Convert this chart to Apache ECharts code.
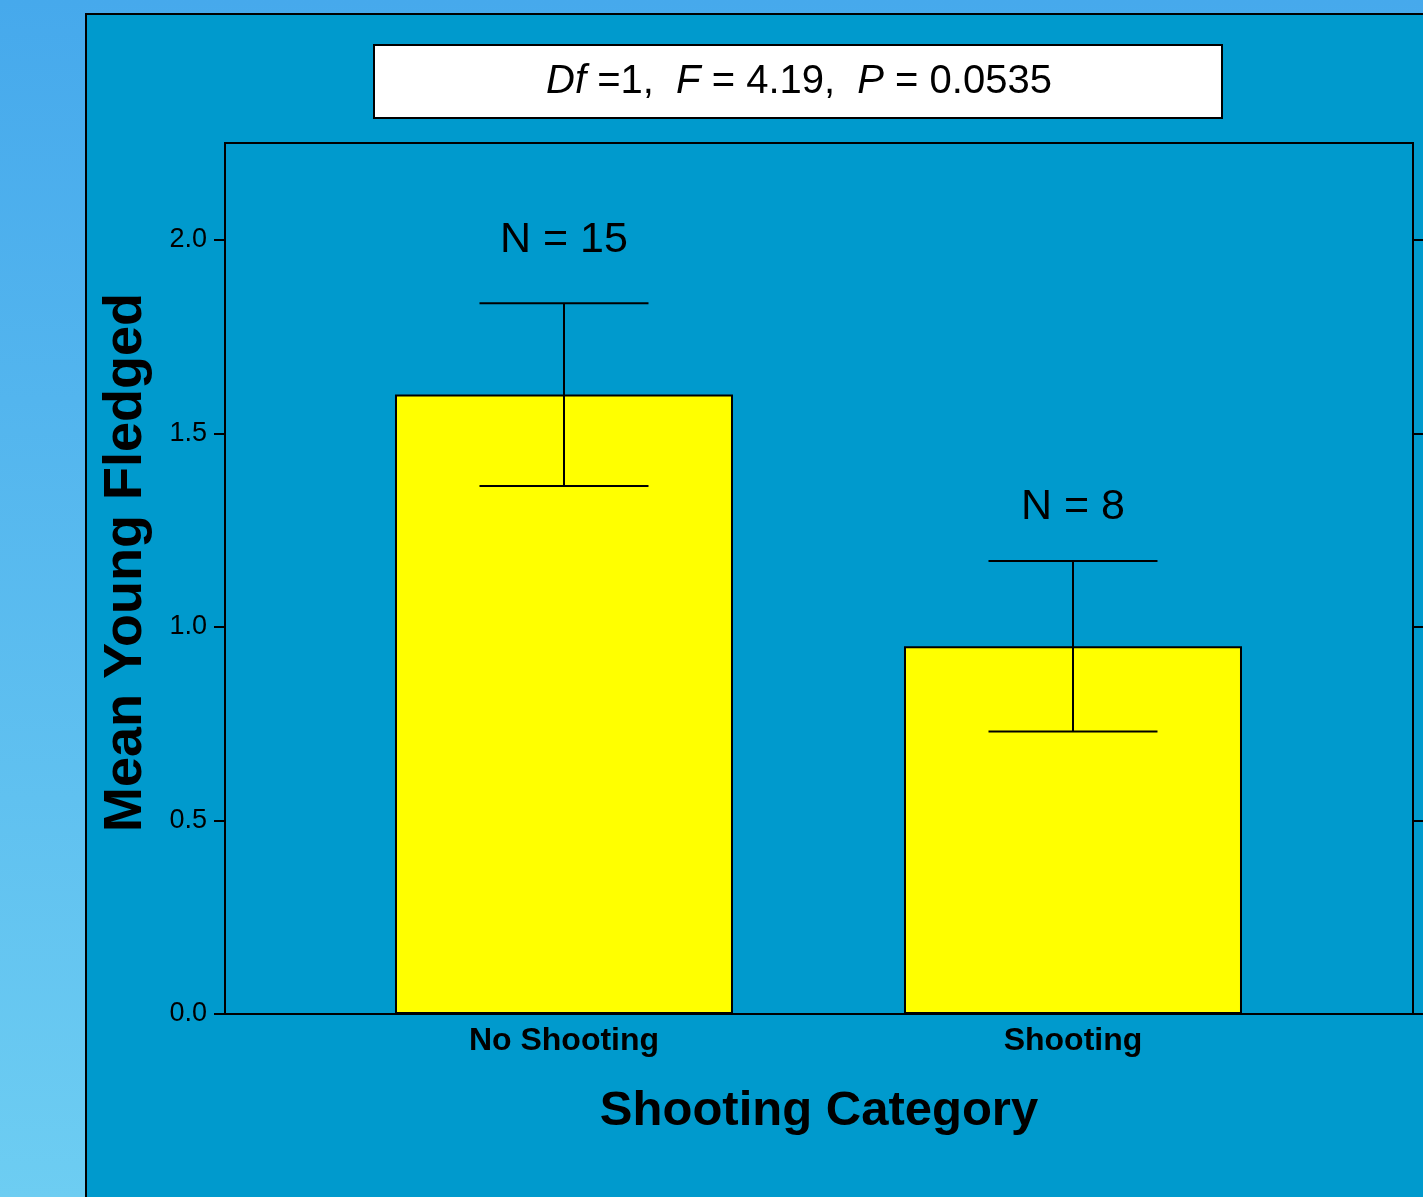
<!DOCTYPE html>
<html>
<head>
<meta charset="utf-8">
<script src="https://cdn.jsdelivr.net/npm/echarts@6/dist/echarts.min.js"></script>
<style>html,body{margin:0;padding:0;}#c{width:1423px;height:1197px;}</style>
</head>
<body>
<div id="c"></div>
<script>
const categories = ['No Shooting', 'Shooting'];
const positions = [0, 1];
const means = [1.60, 0.95];
const stdErrors = [0.236, 0.22];
const sampleLabels = ['N = 15', 'N = 8'];
const sampleLabelY = [2.0, 1.31];
const yTicks = [0, 0.5, 1.0, 1.5, 2.0];

const FONT = '"Liberation Sans", Arial, sans-serif';
const chart = echarts.init(document.getElementById('c'));

const option = {
  animation: false,
  backgroundColor: {
    type: 'linear', x: 0, y: 0, x2: 0, y2: 1,
    colorStops: [{offset: 0, color: '#46A9EC'}, {offset: 1, color: '#6DCDF2'}]
  },
  graphic: [
    {type: 'rect', z: -100, shape: {x: 86, y: 14, width: 1400, height: 1250},
     style: {fill: '#009ACD', stroke: '#000', lineWidth: 2}},
    {type: 'rect', z: 10, shape: {x: 374, y: 45, width: 848, height: 73},
     style: {fill: '#ffffff', stroke: '#000', lineWidth: 2}},
    {type: 'text', z: 11, x: 799, y: 82,
     style: {
       text: '{i|Df}{n| =1,  }{i|F}{n| = 4.19,  }{i|P}{n| = 0.0535}',
       align: 'center', verticalAlign: 'middle',
       rich: {
         i: {fontStyle: 'italic', fontSize: 40, fontFamily: FONT, fill: '#000'},
         n: {fontSize: 40, fontFamily: FONT, fill: '#000'}
       }
     }}
  ],
  grid: {left: 225, top: 143, right: 10, bottom: 183, show: true,
         borderColor: '#000', borderWidth: 2, backgroundColor: 'transparent'},
  xAxis: {
    type: 'value', min: -0.666, max: 1.668,
    name: 'Shooting Category', nameLocation: 'middle', nameGap: 73,
    nameTextStyle: {fontSize: 49, fontWeight: 'bold', fontFamily: FONT, color: '#000'},
    axisLine: {show: true, onZero: false, lineStyle: {color: '#000', width: 2}},
    axisTick: {show: false},
    splitLine: {show: false},
    axisLabel: {
      customValues: positions,
      formatter: v => { const i = positions.indexOf(Math.round(v)); return i >= 0 ? categories[i] : ''; },
      fontSize: 32, fontWeight: 'bold', fontFamily: FONT, color: '#000', margin: 11
    }
  },
  yAxis: [
    {
      type: 'value', min: 0, max: 2.25, position: 'left',
      name: 'Mean Young Fledged', nameLocation: 'middle', nameGap: 72, nameRotate: 90,
      nameTextStyle: {fontSize: 54, fontWeight: 'bold', fontFamily: FONT, color: '#000', padding: [0, 0, 0, 32]},
      axisLine: {show: true, onZero: false, lineStyle: {color: '#000', width: 2}},
      axisTick: {show: true, inside: false, length: 11, customValues: yTicks, lineStyle: {color: '#000', width: 2}},
      splitLine: {show: false},
      axisLabel: {customValues: yTicks, formatter: v => v.toFixed(1),
                  fontSize: 27, fontFamily: FONT, color: '#000', margin: 18}
    },
    {
      type: 'value', min: 0, max: 2.25, position: 'right',
      axisLine: {show: true, onZero: false, lineStyle: {color: '#000', width: 2}},
      axisTick: {show: true, inside: false, length: 11, customValues: yTicks, lineStyle: {color: '#000', width: 2}},
      splitLine: {show: false},
      axisLabel: {show: false}
    }
  ],
  series: [
    {
      type: 'bar', barWidth: 338,
      data: positions.map((p, i) => [p, means[i]]),
      itemStyle: {color: '#FFFF00', borderColor: '#000', borderWidth: 2}
    },
    {
      type: 'custom', z: 5,
      data: positions.map((p, i) => [p, means[i], stdErrors[i]]),
      renderItem: (params, api) => {
        const x = api.value(0), m = api.value(1), e = api.value(2);
        const top = api.coord([x, m + e]);
        const bot = api.coord([x, m - e]);
        const half = 84.5;
        const st = {stroke: '#000', lineWidth: 2};
        return {type: 'group', children: [
          {type: 'line', shape: {x1: top[0], y1: top[1], x2: bot[0], y2: bot[1]}, style: st},
          {type: 'line', shape: {x1: top[0] - half, y1: top[1], x2: top[0] + half, y2: top[1]}, style: st},
          {type: 'line', shape: {x1: bot[0] - half, y1: bot[1], x2: bot[0] + half, y2: bot[1]}, style: st}
        ]};
      }
    },
    {
      type: 'custom', z: 6,
      data: positions.map((p, i) => [p, sampleLabelY[i]]),
      renderItem: (params, api) => {
        const pt = api.coord([api.value(0), api.value(1)]);
        return {type: 'text', x: pt[0], y: pt[1], style: {
          text: sampleLabels[params.dataIndex], align: 'center', verticalAlign: 'middle',
          fontSize: 43, fontFamily: FONT, fill: '#000'
        }};
      }
    }
  ]
};
chart.setOption(option);
</script>
</body>
</html>
